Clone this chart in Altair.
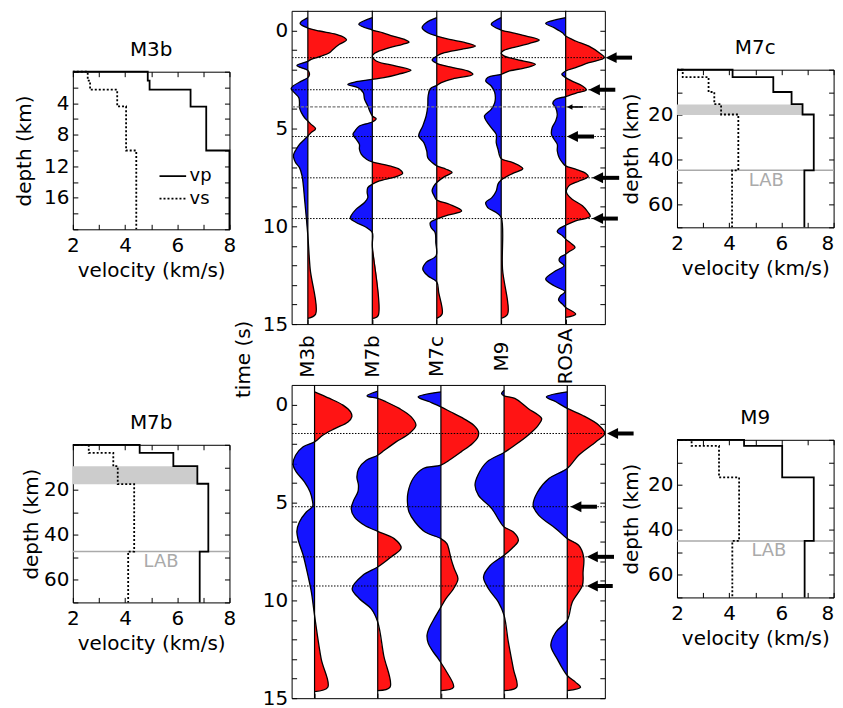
import json
import numpy as np
import pandas as pd
import altair as alt

FONT = "DejaVu Sans"
FS = 20
RED = "#ff0000"
BLUE = "#0000ff"
LABC = "#aaaaaa"
BANDC = "#cccccc"

STATIONS = ["M3b", "M7b", "M7c", "M9", "ROSA"]

# ---------------- receiver functions, top panel: (time s, amplitude in trace spacings)
TOP_M3B = [(-0.65,0),(-0.36,-0.12),(-0.12,0),(0.03,0.18),(0.20,0.44),(0.37,0.57),(0.49,0.60),(0.71,0.49),
           (0.97,0.39),(1.14,0.335),(1.31,0.21),(1.48,0.05),(1.58,0),(1.79,-0.17),(2.04,0),(2.24,0.026),(2.41,0),
           (2.59,-0.10),(2.84,-0.23),(2.98,-0.26),(3.18,-0.21),(3.44,-0.14),(3.69,-0.13),(3.95,-0.13),(4.20,-0.10),
           (4.46,-0.05),(4.63,0),(4.80,0.05),(5.02,0.12),(5.22,0.05),(5.39,0),(5.56,-0.05),(5.82,-0.13),(6.07,-0.18),
           (6.33,-0.22),(6.50,-0.22),(6.75,-0.19),(7.01,-0.13),(7.43,-0.09),(8.79,-0.046),(10.49,0),(12.19,0.036),
           (14.49,0.12),(14.71,0)]
TOP_M7B = [(-0.65,0),(-0.31,-0.21),(-0.02,0),(0.12,0.165),(0.29,0.32),(0.46,0.50),(0.60,0.57),(0.71,0.47),
           (0.88,0.27),(1.05,0.11),(1.17,0.036),(1.31,0),(1.56,0.06),(1.82,0.37),(2.04,0.60),(2.24,0.40),(2.41,0.18),
           (2.50,0),(2.62,-0.25),(2.76,-0.38),(2.93,-0.22),(3.18,-0.14),(3.52,-0.12),(3.86,-0.07),(4.12,-0.04),
           (4.37,0),(4.51,0.06),(4.68,0),(4.88,-0.20),(5.14,-0.27),(5.31,-0.30),(5.56,-0.25),(5.82,-0.20),
           (6.07,-0.20),(6.33,-0.17),(6.58,-0.09),(6.72,0),(6.92,0.27),(7.09,0.42),(7.30,0.47),(7.47,0.37),
           (7.69,0.11),(7.86,0),(8.03,-0.07),(8.28,-0.08),(8.54,-0.07),(8.79,-0.12),(9.13,-0.25),(9.47,-0.33),
           (9.61,-0.34),(9.81,-0.25),(10.07,-0.09),(10.32,0),(11.0,0),(14.57,0.09),(14.71,0)]
TOP_M7C = [(-0.65,0),(-0.39,-0.165),(-0.14,-0.227),(0.12,-0.14),(0.29,0),(0.46,0.196),(0.63,0.454),(0.80,0.60),
           (0.97,0.38),(1.14,0.12),(1.31,0),(1.51,-0.072),(1.68,0),(1.90,0.25),(2.07,0.48),(2.24,0.56),(2.47,0.25),
           (2.67,0.07),(2.81,0),(2.98,-0.10),(3.35,-0.134),(3.86,-0.14),(4.37,-0.165),(4.88,-0.217),(5.39,-0.28),
           (5.73,-0.20),(6.16,-0.155),(6.50,-0.14),(6.75,-0.072),(6.92,0),(7.09,0.145),(7.26,0.237),(7.47,0.12),
           (7.77,0),(7.98,-0.05),(8.20,-0.072),(8.45,-0.04),(8.66,0),(8.88,0.196),(9.22,0.387),(9.44,0.17),(9.64,0),
           (9.81,-0.10),(10.07,-0.088),(10.32,-0.026),(10.83,-0.015),(11.51,-0.01),(11.85,-0.165),(12.19,-0.217),
           (12.53,-0.14),(12.84,0),(13.38,0.03),(14.49,0.083),(14.71,0)]
TOP_M9 = [(-0.65,0),(-0.31,-0.155),(-0.02,0),(0.12,0.18),(0.29,0.39),(0.49,0.59),(0.66,0.44),(0.88,0.18),
          (1.05,0.026),(1.17,0),(1.31,0.05),(1.48,0.23),(1.73,0.53),(1.90,0.39),(2.07,0.13),(2.24,0),(2.41,-0.21),
          (2.59,-0.24),(2.84,-0.155),(3.18,-0.10),(3.69,-0.10),(4.03,-0.155),(4.37,-0.26),(4.63,-0.23),
          (4.97,-0.155),(5.31,-0.077),(5.73,-0.077),(6.07,-0.05),(6.55,0),(6.75,0.18),(7.06,0.335),(7.30,0.18),
          (7.64,0),(7.85,-0.05),(8.20,-0.077),(8.54,-0.145),(8.79,-0.24),(9.05,-0.21),(9.30,-0.077),(9.56,0),
          (12.19,0.02),(14.49,0.10),(14.71,0)]
TOP_ROSA = [(-0.65,0),(-0.56,-0.13),(-0.36,-0.31),(-0.14,-0.18),(0.12,-0.05),(0.29,0),(0.54,0.155),(0.80,0.36),
            (1.14,0.52),(1.39,0.60),(1.65,0.36),(1.90,0.155),(2.07,0),(2.24,-0.06),(2.41,0),(2.59,0.10),(2.84,0.26),
            (3.04,0.32),(3.21,0.155),(3.38,0),(3.52,-0.155),(3.72,-0.20),(3.95,-0.155),(4.29,-0.13),(4.63,-0.155),
            (4.97,-0.21),(5.31,-0.22),(5.56,-0.18),(5.82,-0.13),(6.16,-0.13),(6.50,-0.10),(6.75,-0.05),(6.92,0),
            (7.09,0.155),(7.30,0.31),(7.47,0.35),(7.69,0.21),(7.94,0.05),(8.20,0.01),(8.37,0.026),(8.62,0.10),
            (8.96,0.26),(9.30,0.35),(9.51,0.38),(9.73,0.155),(9.95,0),(10.15,-0.11),(10.29,-0.13),(10.49,-0.05),
            (10.66,0),(10.92,0.10),(11.09,0.145),(11.31,0.05),(11.43,0),(11.60,-0.09),(11.77,-0.10),(12.02,-0.026),
            (12.28,-0.155),(12.70,-0.31),(13.04,-0.18),(13.35,-0.01),(13.55,-0.08),(13.78,-0.11),(13.98,-0.05),
            (14.15,0),(14.49,0.155),(14.66,0)]

# ---------------- receiver functions, bottom panel
BOT_M3B = [(-0.65,0),(-0.31,0.24),(0.03,0.45),(0.375,0.57),(0.63,0.59),(0.89,0.53),(1.23,0.32),(1.57,0.13),
           (1.91,0),(2.16,-0.18),(2.59,-0.30),(3.07,-0.34),(3.44,-0.29),(3.95,-0.16),(4.47,-0.07),(4.90,-0.035),
           (5.20,-0.03),(5.49,-0.13),(6.00,-0.24),(6.48,-0.28),(7.02,-0.25),(7.70,-0.18),(8.73,-0.105),(9.58,-0.05),
           (10.77,0),(12.99,0.105),(14.44,0.21),(14.66,0)]
BOT_M7B = [(-0.68,0),(-0.44,-0.17),(-0.31,0),(-0.14,0.13),(0.20,0.34),(0.63,0.53),(1.06,0.605),(1.48,0.50),
           (1.91,0.29),(2.34,0.105),(2.59,0),(2.85,-0.18),(3.27,-0.30),(3.70,-0.33),(4.12,-0.305),(4.47,-0.315),
           (4.89,-0.38),(5.32,-0.42),(5.74,-0.37),(6.17,-0.21),(6.48,0),(6.85,0.26),(7.33,0.37),(7.79,0.21),(8.30,0),
           (8.73,-0.24),(9.41,-0.405),(9.92,-0.29),(10.43,-0.105),(11.11,0),(12.82,0.095),(14.44,0.195),(14.61,0)]
BOT_M7C = [(-0.65,0),(-0.39,-0.36),(-0.14,-0.18),(0.12,0),(0.37,0.15),(0.72,0.36),(1.06,0.52),(1.40,0.595),
           (1.70,0.58),(1.99,0.50),(2.42,0.32),(2.85,0.13),(3.10,0),(3.27,-0.28),(3.78,-0.44),(4.47,-0.52),
           (4.98,-0.53),(5.49,-0.505),(6.00,-0.41),(6.51,-0.25),(6.85,0),(7.11,0.095),(7.45,0.13),(7.87,0.16),
           (8.38,0.21),(8.90,0.27),(9.41,0.20),(9.92,0.08),(10.35,0),(10.90,-0.10),(11.45,-0.19),(11.79,-0.22),
           (12.20,-0.20),(12.60,-0.13),(12.99,-0.04),(13.19,0),(13.60,0.08),(14.44,0.20),(14.61,0)]
BOT_M9 = [(-0.73,0),(-0.56,-0.04),(-0.44,0),(-0.31,0.17),(0.20,0.38),(0.72,0.595),(1.06,0.54),(1.57,0.38),
          (2.08,0.17),(2.45,0),(2.93,-0.27),(3.61,-0.415),(4.12,-0.46),(4.64,-0.405),(5.32,-0.195),(6.00,-0.063),
          (6.26,0),(6.51,0.147),(6.94,0.226),(7.28,0.147),(7.70,0),(8.22,-0.22),(8.81,-0.326),(9.41,-0.247),
          (10.09,-0.09),(10.77,0),(12.14,0.068),(13.50,0.147),(14.44,0.20),(14.61,0)]
BOT_ROSA = [(-0.65,0),(-0.39,-0.33),(-0.14,-0.18),(0.20,0),(0.55,0.24),(1.06,0.50),(1.48,0.595),(1.91,0.45),
            (2.59,0.18),(3.27,0),(3.78,-0.29),(4.47,-0.47),(5.15,-0.54),(5.66,-0.45),(6.34,-0.18),(6.85,0),
            (7.19,0.18),(7.79,0.26),(8.56,0.25),(9.24,0.24),(10.09,0.08),(11.03,0),(11.62,-0.18),(12.31,-0.26),
            (12.99,-0.16),(13.84,0),(14.18,0.13),(14.44,0.21),(14.61,0)]

TOP_TRACES = {"M3b": TOP_M3B, "M7b": TOP_M7B, "M7c": TOP_M7C, "M9": TOP_M9, "ROSA": TOP_ROSA}
BOT_TRACES = {"M3b": BOT_M3B, "M7b": BOT_M7B, "M7c": BOT_M7C, "M9": BOT_M9, "ROSA": BOT_ROSA}

TOP_DOTTED = [1.39, 3.03, 5.42, 7.53, 9.61]
TOP_GRAY = [3.91]
TOP_ARROW_T = [1.39, 3.03, 3.91, 5.42, 7.53, 9.61]
TOP_ARROW_TIP = [4.62, 4.36, 4.02, 4.02, 4.41, 4.41]
TOP_ARROW_TAIL = [5.03, 4.77, 4.27, 4.44, 4.83, 4.81]
TOP_ARROW_BIG = [1, 1, 0, 1, 1, 1]

BOT_DOTTED = [1.48, 5.22, 7.78, 9.27]
BOT_GRAY = []
BOT_ARROW_T = [1.48, 5.22, 7.78, 9.27]
BOT_ARROW_TIP = [4.63, 4.05, 4.31, 4.31]
BOT_ARROW_TAIL = [5.05, 4.47, 4.74, 4.72]
BOT_ARROW_BIG = [1, 1, 1, 1]

TIME_TICKS = list(range(0, 16))
TIME_LABELS = [0, 5, 10, 15]
TOP_XDOM = [-0.252, 4.608]
BOT_XDOM = [-0.363, 4.595]

# ---------------- velocity models: (velocity km/s, depth km)
M3B_VP = [(2.0,0),(4.87,0),(4.87,1.14),(4.94,1.14),(4.94,2.28),(6.51,2.28),(6.51,4.43),(7.11,4.43),(7.11,10.0),
          (8.0,10.0),(8.0,20)]
M3B_VS = [(2.0,0),(2.57,0),(2.57,1.14),(2.66,1.14),(2.66,2.28),(3.70,2.28),(3.70,4.39),(4.04,4.39),(4.04,10.0),
          (4.43,10.0),(4.43,20)]
M7C_VP = [(2.0,0),(4.13,0),(4.13,3.3),(5.69,3.3),(5.69,9.9),(6.39,9.9),(6.39,15.3),(6.81,15.3),(6.81,19.9),
          (7.24,19.9),(7.24,44.7),(6.88,44.7),(6.88,70)]
M7C_VS = [(2.0,0),(2.22,0),(2.22,3.3),(3.21,3.3),(3.21,9.9),(3.43,9.9),(3.43,15.3),(3.69,15.3),(3.69,19.9),
          (4.35,19.9),(4.35,44.7),(4.11,44.7),(4.11,70)]
M7B_VP = [(2.0,0),(4.56,0),(4.56,3.6),(5.85,3.6),(5.85,9.5),(6.77,9.5),(6.77,17.3),(7.19,17.3),(7.19,47.4),
          (6.86,47.4),(6.86,70)]
M7B_VS = [(2.0,0),(2.61,0),(2.61,3.6),(3.55,3.6),(3.55,9.5),(3.72,9.5),(3.72,17.5),(4.35,17.5),(4.35,47.4),
          (4.12,47.4),(4.12,70)]
M9_VP = [(2.0,0),(4.57,0),(4.57,2.7),(6.03,2.7),(6.03,16.7),(7.24,16.7),(7.24,44.9),(6.89,44.9),(6.89,70)]
M9_VS = [(2.0,0),(2.56,0),(2.56,2.7),(3.61,2.7),(3.61,16.7),(4.38,16.7),(4.38,44.9),(4.12,44.9),(4.12,70)]

# shaded layer: (top depth, bottom depth, right velocity)
M7C_BAND = (15.4, 20.1, 6.81)
M7B_BAND = (9.5, 17.5, 6.77)
# LAB: (depth of line, text velocity, text depth)
M7C_LAB = (44.7, 5.42, 49.3)
M7B_LAB = (47.4, 5.38, 51.9)
M9_LAB = (44.9, 5.52, 49.6)

LEGEND_LABELS = ["vp", "vs"]
LEGEND_DEPTH = [13.25, 16.1]
LEGEND_V = [5.32, 6.34, 6.47]

VEL_TICKS = [2, 3, 4, 5, 6, 7, 8]
VEL_LABELS = [2, 4, 6, 8]

WW, WH = 314, 314      # waveform panels
VW, VH = 157, 158      # velocity panels


def tick_axis(orient, values, w, h):
    off = -h if orient in ("top", "bottom") else -w
    return alt.Axis(orient=orient, offset=off, values=values, labels=False, ticks=True,
                    tickSize=5, title=None, domain=False, grid=False)


def trace_frames(traces):
    line_rows, lobe_rows = [], []
    for i, name in enumerate(STATIONS):
        pts = traces[name]
        for t, a in pts:
            line_rows.append({"station": name, "t": t, "x": i + a})
        segs, cur = [], [pts[0]]
        for t, a in pts[1:]:
            cur.append((t, a))
            if a == 0:
                segs.append(cur)
                cur = [(t, a)]
        if len(cur) > 1:
            segs.append(cur)
        for k, seg in enumerate(segs):
            amps = [a for _, a in seg]
            if max(abs(a) for a in amps) == 0:
                continue
            sign = "pos" if sum(amps) > 0 else "neg"
            for t, a in seg:
                lobe_rows.append({"lobe": f"{name}-{k}", "sign": sign, "t": t, "x": i + a, "base": i})
    return pd.DataFrame(line_rows), pd.DataFrame(lobe_rows)


def wave_panel(traces, xdom, dotted, gray, a_t, a_tip, a_tail, a_big, labels, time_title):
    xs = alt.Scale(domain=xdom, nice=False, zero=False)
    ys = alt.Scale(domain=[-1, 15], reverse=True, nice=False, zero=False)
    line_df, lobe_df = trace_frames(traces)
    idx = list(range(len(STATIONS)))
    base_df = pd.DataFrame({"idx": idx})

    if labels:
        xaxis = alt.Axis(values=idx, labelExpr=json.dumps(STATIONS) + "[datum.value]", labelAngle=270,
                         labelAlign="center", labelBaseline="middle", labelPadding=32, ticks=False,
                         title=None, labelFlush=False, labelOverlap=False)
    else:
        xaxis = None
    ykw = dict(values=TIME_LABELS, ticks=False, labelPadding=4, labelFlush=False, labelOverlap=False)
    if time_title:
        yaxis = alt.Axis(title="time (s)", titleX=-48.7, titleY=348.8, titleAngle=270, titleAlign="center",
                         titleBaseline="middle", **ykw)
    else:
        yaxis = alt.Axis(title=None, **ykw)

    areas = alt.Chart(lobe_df).mark_area(orient="horizontal", interpolate="catmull-rom", fillOpacity=0.92).encode(
        x=alt.X("x:Q", scale=xs, axis=xaxis, stack=False),
        x2="base:Q",
        y=alt.Y("t:Q", scale=ys, axis=yaxis),
        color=alt.Color("sign:N", scale=alt.Scale(domain=["pos", "neg"], range=[RED, BLUE]), legend=None),
        detail="lobe:N",
    )
    outline = alt.Chart(line_df).mark_line(interpolate="catmull-rom", color="black", strokeWidth=1.3).encode(
        x=alt.X("x:Q", scale=xs, axis=tick_axis("top", idx, WW, WH)),
        y=alt.Y("t:Q", scale=ys, axis=tick_axis("right", TIME_TICKS, WW, WH)),
        detail="station:N",
        order="t:Q",
    )
    baselines = alt.Chart(base_df).mark_rule(color="black", strokeWidth=1.2).encode(
        x=alt.X("idx:Q", scale=xs, axis=None))
    dots = alt.Chart(pd.DataFrame({"t": dotted})).mark_rule(color="black", strokeWidth=1, strokeDash=[1.5, 1.5]).encode(
        y=alt.Y("t:Q", scale=ys, axis=tick_axis("left", TIME_TICKS, WW, WH)))
    layers = [areas, outline, baselines, dots]
    if gray:
        layers.append(alt.Chart(pd.DataFrame({"t": gray})).mark_rule(color="#777777", strokeWidth=1.2,
                                                                     strokeDash=[3, 1.5]).encode(
            y=alt.Y("t:Q", scale=ys, axis=None)))
    big = np.array(a_big) == 1
    adf = pd.DataFrame({"t": a_t, "tip": a_tip, "tail": a_tail})
    adf["start"] = adf["tip"] + np.where(big, 0.12, 0.06)
    adf["w"] = np.where(big, 4.0, 1.6)
    adf["hs"] = np.where(big, 121, 30)
    shafts = alt.Chart(adf).mark_rule(color="black").encode(
        x=alt.X("start:Q", scale=xs, axis=None), x2="tail:Q",
        y=alt.Y("t:Q", scale=ys, axis=None),
        size=alt.Size("w:Q", scale=None, legend=None))
    heads = alt.Chart(adf).mark_point(shape="M0,0L2,-1L2,1Z", filled=True, color="black", opacity=1,
                                      strokeWidth=0).encode(
        x=alt.X("tip:Q", scale=xs, axis=None),
        y=alt.Y("t:Q", scale=ys, axis=None),
        size=alt.Size("hs:Q", scale=None, legend=None))
    layers += [shafts, heads]
    return alt.layer(*layers).resolve_axis(x="independent", y="independent").properties(width=WW, height=WH)


def vel_panel(title, vp, vs, ydom, yticks, ylabels, title_x, band=None, lab=None, legend=False, edge=False):
    xs = alt.Scale(domain=[2, 8], nice=False, zero=False)
    ys = alt.Scale(domain=ydom, reverse=True, nice=False, zero=False)
    vp_df = pd.DataFrame(vp, columns=["v", "d"]).assign(i=range(len(vp)))
    vs_df = pd.DataFrame(vs, columns=["v", "d"]).assign(i=range(len(vs)))
    if edge:
        lab_align = {"condition": {"test": "datum.value === 8", "value": "right"}, "value": "center"}
    else:
        lab_align = "center"
    main_x = alt.Axis(values=VEL_LABELS, title="velocity (km/s)", ticks=False, labelPadding=6,
                      labelAlign=lab_align, labelFlush=False, labelOverlap=False, titleX=VW / 2, titleY=41,
                      titleBaseline="middle", titleAlign="center")
    main_y = alt.Axis(values=ylabels, title="depth (km)", ticks=False, labelPadding=4, labelFlush=False,
                      labelOverlap=False, titleX=title_x, titleY=VH / 2, titleAngle=270, titleAlign="center",
                      titleBaseline="middle")
    layers = []
    if band is not None:
        bdf = pd.DataFrame({"d0": [band[0]], "d1": [band[1]], "v0": [2.0], "v1": [band[2]]})
        layers.append(alt.Chart(bdf).mark_rect(color=BANDC).encode(
            x=alt.X("v0:Q", scale=xs, axis=None), x2="v1:Q",
            y=alt.Y("d0:Q", scale=ys, axis=None), y2="d1:Q"))
    if lab is not None:
        layers.append(alt.Chart(pd.DataFrame({"d": [lab[0]]})).mark_rule(color=LABC, strokeWidth=1.5).encode(
            y=alt.Y("d:Q", scale=ys, axis=None)))
    layers.append(alt.Chart(vp_df).mark_line(color="black", strokeWidth=1.8).encode(
        x=alt.X("v:Q", scale=xs, axis=main_x), y=alt.Y("d:Q", scale=ys, axis=main_y), order="i:Q"))
    layers.append(alt.Chart(vs_df).mark_line(color="black", strokeWidth=1.8, strokeDash=[2, 2]).encode(
        x=alt.X("v:Q", scale=xs, axis=tick_axis("top", VEL_TICKS, VW, VH)),
        y=alt.Y("d:Q", scale=ys, axis=tick_axis("right", yticks, VW, VH)), order="i:Q"))
    if legend:
        ldf = pd.DataFrame({"v0": [LEGEND_V[0]] * 2, "v1": [LEGEND_V[1]] * 2, "d": LEGEND_DEPTH,
                            "k": LEGEND_LABELS, "vt": [LEGEND_V[2]] * 2})
        layers.append(alt.Chart(ldf).mark_rule(color="black", strokeWidth=1.8).encode(
            x=alt.X("v0:Q", scale=xs, axis=None), x2="v1:Q", y=alt.Y("d:Q", scale=ys, axis=None),
            strokeDash=alt.StrokeDash("k:N", scale=alt.Scale(domain=LEGEND_LABELS, range=[[1, 0], [2, 2]]),
                                      legend=None)))
        layers.append(alt.Chart(ldf).mark_text(align="left", baseline="middle", fontSize=18, font=FONT,
                                               color="black").encode(
            x=alt.X("vt:Q", scale=xs, axis=tick_axis("bottom", VEL_TICKS, VW, VH)),
            y=alt.Y("d:Q", scale=ys, axis=tick_axis("left", yticks, VW, VH)),
            text="k:N"))
    if lab is not None:
        tdf = pd.DataFrame({"v": [lab[1]], "d": [lab[2]], "s": ["LAB"]})
        layers.append(alt.Chart(tdf).mark_text(align="center", baseline="middle", fontSize=18, font=FONT,
                                               color=LABC).encode(
            x=alt.X("v:Q", scale=xs, axis=tick_axis("bottom", VEL_TICKS, VW, VH)),
            y=alt.Y("d:Q", scale=ys, axis=tick_axis("left", yticks, VW, VH)),
            text="s:N"))
    return alt.layer(*layers).resolve_axis(x="independent", y="independent").properties(
        width=VW, height=VH,
        title=alt.TitleParams(title, fontSize=FS, font=FONT, fontWeight="normal", offset=8))


def spacer(h):
    return alt.Chart(pd.DataFrame({"z": [0]})).mark_point(opacity=0).properties(
        width=VW, height=h, view=alt.ViewBackground(stroke="transparent"))


DEPTH_TICKS_SMALL = list(range(0, 21, 2))
DEPTH_TICKS_DEEP = list(range(0, 71, 10))

m3b = vel_panel("M3b", M3B_VP, M3B_VS, [0, 20], DEPTH_TICKS_SMALL, [4, 8, 12, 16], -48.7, legend=True)
m7b = vel_panel("M7b", M7B_VP, M7B_VS, [0, 70], DEPTH_TICKS_DEEP, [20, 40, 60], -41.9, band=M7B_BAND, lab=M7B_LAB)
m7c = vel_panel("M7c", M7C_VP, M7C_VS, [0, 70], DEPTH_TICKS_DEEP, [20, 40, 60], -45.4, band=M7C_BAND, lab=M7C_LAB,
                edge=True)
m9 = vel_panel("M9", M9_VP, M9_VS, [0, 70], DEPTH_TICKS_DEEP, [20, 40, 60], -45.4, lab=M9_LAB, edge=True)

top = wave_panel(TOP_TRACES, TOP_XDOM, TOP_DOTTED, TOP_GRAY, TOP_ARROW_T, TOP_ARROW_TIP, TOP_ARROW_TAIL,
                 TOP_ARROW_BIG, labels=True, time_title=True)
bot = wave_panel(BOT_TRACES, BOT_XDOM, BOT_DOTTED, BOT_GRAY, BOT_ARROW_T, BOT_ARROW_TIP, BOT_ARROW_TAIL,
                 BOT_ARROW_BIG, labels=False, time_title=False)

left = alt.vconcat(spacer(59.1), m3b, spacer(214), m7b, spacing=1, bounds="flush")
mid = alt.vconcat(top, bot, spacing=61.0, bounds="flush")
right = alt.vconcat(spacer(57.5), m7c, spacer(210.6), m9, spacing=1, bounds="flush")

chart = alt.hconcat(left, alt.hconcat(mid, right, spacing=-15.7), spacing=-4.7).properties(
    padding={"left": 5, "top": 0, "right": 0, "bottom": 0}
).configure(font=FONT).configure_view(stroke="black", strokeWidth=1).configure_axis(
    labelFont=FONT, labelFontSize=FS, titleFont=FONT, titleFontSize=FS, titleFontWeight="normal",
    labelColor="black", titleColor="black", tickColor="black", grid=False, domain=False
).configure_title(font=FONT, fontSize=FS, fontWeight="normal", color="black")

chart.save("out.html", embed_options={"renderer": "svg", "actions": False})
